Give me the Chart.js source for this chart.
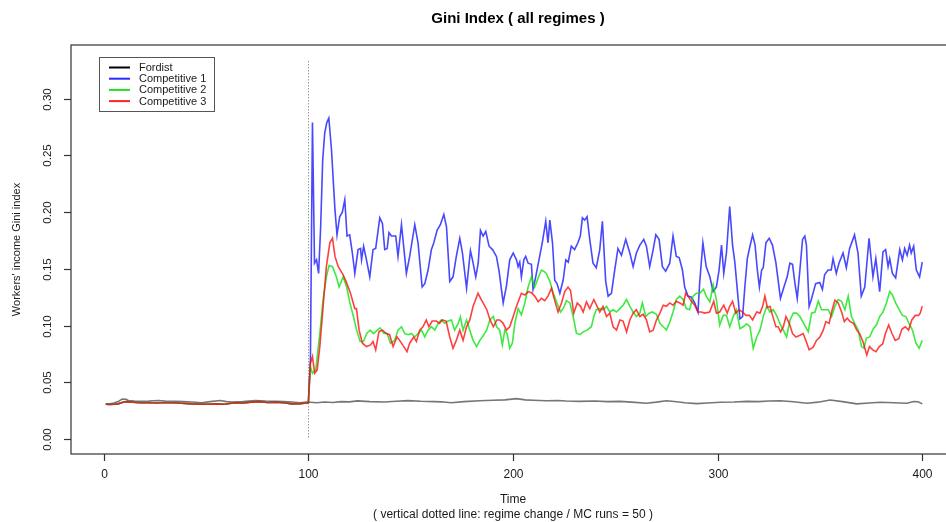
<!DOCTYPE html>
<html>
<head>
<meta charset="utf-8">
<title>Gini Index ( all regimes )</title>
<script src="https://cdn.jsdelivr.net/npm/chart.js@4/dist/chart.umd.min.js"></script>
<style>
  html, body { margin: 0; padding: 0; background: #ffffff; overflow: hidden; }
  canvas { display: block; }
</style>
</head>
<body>
<canvas id="gini" width="960" height="522" style="width:960px;height:522px"></canvas>
<script>
// ---- chart text ----
const chartTitle = 'Gini Index ( all regimes )';
const xTitle = 'Time';
const xSubtitle = '( vertical dotted line: regime change / MC runs = 50 )';
const yTitle = "Workers' income Gini index";
const seriesNames = ['Fordist', 'Competitive 1', 'Competitive 2', 'Competitive 3'];
const seriesColors = ['#767676', 'rgba(20,20,255,0.78)', 'rgba(10,225,10,0.78)', 'rgba(255,10,10,0.78)'];
const legendColors = ['#000000', '#2a2aff', '#22dd22', '#ff2222'];

// ---- axes ----
const xTicks = [0, 100, 200, 300, 400];
const xTickLabels = ['0', '100', '200', '300', '400'];
const yTicks = [0, 0.05, 0.10, 0.15, 0.20, 0.25, 0.30];
const yTickLabels = ['0.00', '0.05', '0.10', '0.15', '0.20', '0.25', '0.30'];
const regimeChangeTime = 100;

// ---- Fordist regime (whole run) ----
const fordistTime = [1, 3, 5, 7, 9, 11, 12, 15, 18.6, 22, 26.7, 30, 35, 39, 43, 47.9, 52, 56.9, 60, 62.6,
  68, 74, 79, 83.8, 88, 91.9, 96, 99.3, 104, 108, 112, 116, 120, 124, 130, 137, 143, 148.6, 155, 161.6,
  165, 169.8, 176, 183.8, 190, 196, 201.7, 206, 210, 216.3, 222, 226, 232.6, 240, 246, 252.2, 258, 265.2,
  270, 275, 280, 284, 289.6, 295, 301.3, 308, 314.3, 320, 325, 330.6, 337, 343.7, 349, 355, 361, 368,
  374, 379.5, 386, 392.5, 395.8, 398, 400];
const fordistGini = [0.031, 0.031, 0.0318, 0.033, 0.0353, 0.035, 0.034, 0.0335, 0.0333, 0.0335, 0.034, 0.0335,
  0.0333, 0.033, 0.0326, 0.032, 0.033, 0.034, 0.033, 0.0326, 0.033, 0.034, 0.0335, 0.0333, 0.033, 0.0326,
  0.032, 0.0326, 0.032, 0.0326, 0.0322, 0.033, 0.0328, 0.0336, 0.033, 0.0326, 0.0333, 0.0339, 0.0333, 0.033,
  0.0328, 0.032, 0.033, 0.0338, 0.0342, 0.0345, 0.0356, 0.0345, 0.0342, 0.0338, 0.034, 0.0335, 0.0332, 0.0335,
  0.033, 0.0332, 0.0325, 0.0315, 0.0325, 0.0338, 0.0328, 0.032, 0.0312, 0.0318, 0.0324, 0.0326, 0.0332, 0.033,
  0.0335, 0.0338, 0.0328, 0.0315, 0.0325, 0.0344, 0.033, 0.031, 0.0318, 0.0324, 0.032, 0.0315, 0.033, 0.0328,
  0.031];

// ---- competitive regimes: common path before the regime change ----
const preChangeTime = [1, 3, 5, 7, 9, 11, 14, 18, 22, 26, 30, 34, 38, 43, 47, 51, 55, 59, 64, 68, 72, 76, 80,
  84, 88, 92, 96, 100];
const preChangeGini = [0.0306, 0.0305, 0.0306, 0.031, 0.0322, 0.033, 0.0325, 0.032, 0.0322, 0.0318, 0.0322,
  0.032, 0.0315, 0.031, 0.0308, 0.0306, 0.031, 0.0306, 0.032, 0.0318, 0.0325, 0.033, 0.0322, 0.0325, 0.032,
  0.031, 0.0312, 0.032];

// ---- Competitive 1 after the regime change ----
const comp1Time = [101, 102, 103, 104, 105, 106, 107, 108, 109, 110, 111.3, 113, 114, 115.3, 116.6, 117.8, 118.9,
  120.2, 121.5, 122.7, 124.3, 125.5, 126, 127, 128.4, 130, 131.6, 132.9, 134.9, 136.2, 137.3, 138.5, 139.4,
  140.6, 142.7, 143.8, 145.5, 147.9, 149.5, 152, 153.6, 155.6, 156.9, 158.5, 160.1, 161.3, 162.9, 164.5,
  166.2, 167.5, 169.1, 170.7, 172.3, 174, 175.3, 177.3, 179.2, 180.2, 181.8, 183, 184.1, 185.4, 186.7, 188.3,
  190, 191.9, 193.2, 195.2, 196.8, 198.4, 200.1, 201.7, 202.5, 203.3, 204.1, 205.3, 206.2, 207.4, 209, 209.8,
  211.1, 212.7, 214.3, 216, 217.1, 218, 219.3, 220.4, 221.5, 222.9, 224.5, 225.8, 227, 228.5, 230.1, 231.7,
  232.9, 233.9, 235, 236.2, 237.5, 239.1, 240.7, 242.4, 243.7, 245.3, 246.5, 248.1, 249.7, 251.3, 253, 255.1,
  257.1, 258.7, 260.3, 262, 263.9, 265.2, 266.8, 268.5, 269.8, 271.4, 273, 274.6, 276.6, 278.2, 279.8, 281.2,
  282.8, 283.9, 285.5, 287.2, 288.8, 290.4, 291.2, 292.8, 294.4, 296.2, 297.8, 299.4, 300.7, 301.9, 303,
  304.3, 305.9, 307.3, 308.4, 309.6, 310.9, 312.2, 313.3, 314.5, 315.8, 317.1, 318.3, 319.4, 320.4, 321.5,
  322.3, 323.6, 325.2, 326.8, 328.5, 330.7, 332.4, 334, 335.3, 336.6, 337.8, 338.9, 340.2, 341.5, 342.6,
  343.4, 344.7, 345.8, 347.9, 349.9, 351.2, 352.3, 354, 355.5, 356.4, 358, 359.3, 361.3, 362.9, 364.5, 366.9,
  368.6, 370.2, 371.9, 374, 375.9, 377.3, 379.2, 380.8, 382.1, 383.3, 384.1, 385.4, 387, 389, 390.3, 391.4,
  392.6, 393.8, 394.6, 395.8, 397.1, 398.7, 400];
const comp1Gini = [0.07, 0.279, 0.155, 0.158, 0.146, 0.187, 0.246, 0.27, 0.279, 0.283, 0.255, 0.202, 0.18, 0.196,
  0.2, 0.211, 0.179, 0.18, 0.164, 0.146, 0.167, 0.168, 0.158, 0.17, 0.158, 0.143, 0.167, 0.168, 0.195, 0.19,
  0.167, 0.168, 0.182, 0.179, 0.179, 0.161, 0.189, 0.146, 0.161, 0.189, 0.173, 0.134, 0.137, 0.149, 0.167,
  0.173, 0.184, 0.189, 0.198, 0.187, 0.139, 0.143, 0.161, 0.177, 0.164, 0.133, 0.166, 0.158, 0.143, 0.155,
  0.184, 0.179, 0.183, 0.17, 0.167, 0.161, 0.148, 0.12, 0.135, 0.158, 0.164, 0.158, 0.152, 0.156, 0.143,
  0.158, 0.161, 0.155, 0.154, 0.132, 0.143, 0.158, 0.173, 0.192, 0.173, 0.193, 0.173, 0.14, 0.137, 0.1285,
  0.14, 0.158, 0.156, 0.17, 0.167, 0.173, 0.179, 0.195, 0.193, 0.196, 0.176, 0.155, 0.151, 0.167, 0.192,
  0.139, 0.126, 0.1285, 0.149, 0.168, 0.162, 0.176, 0.164, 0.152, 0.164, 0.171, 0.176, 0.17, 0.152, 0.167,
  0.18, 0.176, 0.152, 0.148, 0.155, 0.179, 0.161, 0.16, 0.149, 0.134, 0.126, 0.125, 0.12, 0.112, 0.137,
  0.173, 0.152, 0.143, 0.13, 0.134, 0.149, 0.171, 0.146, 0.164, 0.205, 0.171, 0.156, 0.132, 0.106, 0.108,
  0.134, 0.159, 0.17, 0.18, 0.171, 0.149, 0.134, 0.149, 0.151, 0.173, 0.177, 0.171, 0.155, 0.124, 0.134,
  0.143, 0.155, 0.154, 0.137, 0.124, 0.149, 0.176, 0.179, 0.171, 0.117, 0.123, 0.137, 0.138, 0.132, 0.145,
  0.149, 0.149, 0.159, 0.146, 0.155, 0.164, 0.151, 0.168, 0.18, 0.164, 0.126, 0.134, 0.177, 0.143, 0.159,
  0.13, 0.165, 0.167, 0.152, 0.159, 0.146, 0.142, 0.167, 0.158, 0.168, 0.162, 0.171, 0.164, 0.17, 0.149,
  0.143, 0.156];

// ---- Competitive 2 after the regime change ----
const comp2Time = [101, 102, 103.6, 105.6, 107.2, 108.8, 110.1, 111.8, 113.7, 115, 117, 118.7, 120.3, 122, 123.6,
  125.3, 126.9, 128.5, 130.2, 131.8, 133.7, 135, 137, 138.5, 140.1, 142.2, 143.8, 145.5, 147.1, 148.8, 150.4,
  152, 153.6, 155.3, 156.9, 158.5, 160.1, 161.8, 163.4, 165, 166.6, 168.3, 169.9, 171.5, 173.2, 174.3, 175.6,
  177.3, 178.9, 180.5, 182.2, 183.8, 185.4, 187.1, 188.7, 190.4, 192, 193.5, 194.8, 196, 197.1, 198.4, 199.7,
  200.9, 202.5, 204.1, 205.8, 207.4, 209, 210.6, 212.3, 213.9, 215, 216.3, 218, 219.6, 221.5, 223.2, 224.8,
  226.1, 227.8, 229.4, 231, 232.7, 234.3, 236.2, 238.3, 239.5, 240.7, 242.4, 244, 245.7, 247.3, 248.9, 250.6,
  252.2, 253.8, 255.5, 257.1, 258.7, 260.3, 262, 263.2, 264.9, 266.5, 268.1, 270.1, 271.8, 273.4, 275, 276.6,
  278.2, 279.8, 281.5, 283.1, 284.7, 286.3, 288, 289.6, 291.3, 293.1, 294.4, 296.2, 297.8, 299.4, 301, 302.7,
  304.3, 305.9, 307.6, 309.2, 310.9, 312.5, 314.1, 315.8, 317.4, 319.1, 320.7, 322.3, 324, 325.6, 327.2,
  328.8, 330.5, 332.1, 333.7, 335.3, 337, 338.6, 340.2, 342.2, 344.3, 345.9, 347.6, 349.2, 350.8, 352.4,
  354.1, 355.7, 357.3, 358.9, 360.5, 362.2, 363.8, 365.4, 367.1, 368.7, 370.3, 371.5, 372.7, 374.3, 376,
  377.6, 379.2, 380.8, 382.5, 384.1, 385.4, 387, 388.7, 390.3, 392, 393.6, 395.2, 396.9, 398.5, 400];
const comp2Gini = [0.0638, 0.058, 0.061, 0.093, 0.123, 0.143, 0.153, 0.152, 0.143, 0.134, 0.143, 0.134, 0.12,
  0.108, 0.096, 0.086, 0.086, 0.093, 0.096, 0.093, 0.096, 0.098, 0.093, 0.093, 0.0845, 0.087, 0.096, 0.099,
  0.093, 0.092, 0.093, 0.09, 0.093, 0.096, 0.09, 0.096, 0.099, 0.096, 0.102, 0.105, 0.102, 0.104, 0.105, 0.096,
  0.102, 0.1076, 0.096, 0.105, 0.096, 0.087, 0.0815, 0.087, 0.091, 0.096, 0.105, 0.108, 0.099, 0.096, 0.083,
  0.096, 0.093, 0.08, 0.0845, 0.102, 0.115, 0.1095, 0.12, 0.134, 0.143, 0.134, 0.142, 0.149, 0.148, 0.146,
  0.139, 0.129, 0.12, 0.112, 0.116, 0.122, 0.12, 0.108, 0.0933, 0.092, 0.0945, 0.096, 0.099, 0.108, 0.114,
  0.115, 0.114, 0.117, 0.112, 0.114, 0.112, 0.115, 0.118, 0.123, 0.117, 0.112, 0.108, 0.111, 0.12, 0.108,
  0.111, 0.112, 0.11, 0.102, 0.099, 0.096, 0.103, 0.112, 0.123, 0.126, 0.123, 0.115, 0.114, 0.126, 0.1285,
  0.1285, 0.132, 0.126, 0.121, 0.136, 0.123, 0.1005, 0.109, 0.109, 0.099, 0.108, 0.114, 0.0973, 0.099, 0.1015,
  0.099, 0.08, 0.09, 0.096, 0.108, 0.117, 0.112, 0.114, 0.109, 0.1015, 0.096, 0.09, 0.1045, 0.111, 0.111,
  0.108, 0.1015, 0.0945, 0.111, 0.112, 0.1215, 0.114, 0.114, 0.114, 0.108, 0.117, 0.123, 0.1215, 0.114, 0.126,
  0.108, 0.1015, 0.096, 0.0815, 0.08, 0.089, 0.09, 0.097, 0.1005, 0.108, 0.112, 0.12, 0.13, 0.127, 0.12, 0.114,
  0.109, 0.108, 0.1015, 0.096, 0.0845, 0.08, 0.087];

// ---- Competitive 3 after the regime change ----
const comp3Time = [101, 102, 103.1, 104.3, 105.6, 107.2, 108.8, 110.5, 111.8, 113, 114.6, 117, 118.4, 120.5, 122.7,
  123.5, 124.8, 126.4, 128.4, 130.4, 131.6, 132.9, 134.5, 136.2, 138.1, 139.7, 141.4, 143.3, 144.6, 146.6,
  148.2, 149.5, 151.5, 152.8, 154.4, 156, 157.6, 158.9, 160.5, 162.5, 164.1, 165.4, 167.3, 169.1, 170.7,
  172.3, 174, 175.6, 177.3, 178.9, 180.5, 182.9, 184.5, 187.2, 188.8, 190.4, 192.1, 193.5, 195.2, 196.8,
  198.4, 200.1, 201.7, 204.1, 205.8, 207.4, 209, 210.6, 212.3, 213.9, 215.5, 217.1, 218.8, 220.4, 222, 223.7,
  225.3, 226.9, 228.1, 229.7, 231.4, 233, 234.3, 235.9, 237.5, 239.5, 241.1, 242.4, 244, 245.7, 247.3, 248.9,
  250.6, 252.2, 253.8, 255.5, 257.1, 258.7, 260.3, 262, 263.6, 265.2, 266.8, 268.5, 270.1, 271.8, 273.4, 275,
  276.6, 278.2, 279.8, 281.5, 283.1, 284.4, 285.5, 287.2, 288.8, 290.4, 292, 293.6, 296.1, 298.1, 299.4, 301,
  303, 304.7, 305.9, 307.3, 308.9, 310.5, 312.2, 313.8, 315.5, 317.1, 319.1, 320.7, 322, 323.1, 324.3, 325.6,
  326.8, 328.5, 329.6, 330.8, 332.1, 333.4, 335, 336.6, 338.3, 340.2, 341.8, 343.1, 344.7, 346.7, 348.3, 350,
  351.6, 352.9, 354.5, 355.7, 357.3, 358.9, 360.6, 361.9, 363.3, 364.8, 366.4, 368, 369.4, 371, 372.9, 374.2,
  375.8, 377.4, 379, 380.7, 382, 383.6, 385.2, 386.8, 388.5, 390.1, 391.7, 393.3, 394.9, 396.6, 398.2, 399,
  400];
const comp3Gini = [0.0668, 0.0727, 0.058, 0.061, 0.0815, 0.117, 0.152, 0.173, 0.177, 0.161, 0.152, 0.1447, 0.139,
  0.129, 0.115, 0.115, 0.096, 0.0845, 0.0815, 0.083, 0.086, 0.0786, 0.0947, 0.096, 0.093, 0.092, 0.0815, 0.09,
  0.087, 0.0815, 0.077, 0.0845, 0.09, 0.086, 0.096, 0.099, 0.105, 0.099, 0.104, 0.104, 0.102, 0.105, 0.104,
  0.09, 0.08, 0.087, 0.096, 0.087, 0.099, 0.105, 0.117, 0.1285, 0.123, 0.114, 0.105, 0.099, 0.105, 0.105,
  0.102, 0.096, 0.099, 0.108, 0.117, 0.1285, 0.127, 0.13, 0.129, 0.126, 0.121, 0.124, 0.122, 0.126, 0.133,
  0.122, 0.112, 0.12, 0.13, 0.134, 0.131, 0.111, 0.12, 0.117, 0.112, 0.121, 0.115, 0.123, 0.117, 0.112, 0.117,
  0.108, 0.111, 0.099, 0.096, 0.105, 0.104, 0.0945, 0.105, 0.111, 0.114, 0.108, 0.11, 0.105, 0.0945, 0.096,
  0.105, 0.111, 0.118, 0.117, 0.12, 0.118, 0.1215, 0.12, 0.118, 0.1285, 0.126, 0.1215, 0.118, 0.112, 0.112,
  0.111, 0.112, 0.1215, 0.111, 0.112, 0.118, 0.111, 0.117, 0.1215, 0.111, 0.114, 0.112, 0.109, 0.109, 0.105,
  0.112, 0.111, 0.117, 0.126, 0.116, 0.117, 0.109, 0.099, 0.099, 0.0945, 0.099, 0.108, 0.102, 0.093, 0.09,
  0.0915, 0.093, 0.087, 0.0786, 0.081, 0.087, 0.09, 0.096, 0.1035, 0.102, 0.112, 0.1225, 0.12, 0.112, 0.1035,
  0.1065, 0.1035, 0.102, 0.096, 0.093, 0.086, 0.0741, 0.0815, 0.0786, 0.077, 0.0815, 0.084, 0.093, 0.1005,
  0.093, 0.087, 0.0885, 0.097, 0.099, 0.096, 0.105, 0.109, 0.109, 0.111, 0.117];

// pair a time vector with its values for a linear x scale
function toPoints(times, values) {
  return times.map((t, i) => ({ x: t, y: values[i] }));
}

const fordistPts = toPoints(fordistTime, fordistGini);
const prePts = toPoints(preChangeTime, preChangeGini);
const comp1Pts = prePts.concat(toPoints(comp1Time, comp1Gini));
const comp2Pts = prePts.concat(toPoints(comp2Time, comp2Gini));
const comp3Pts = prePts.concat(toPoints(comp3Time, comp3Gini));

const FONT = '"Liberation Sans", Arial, Helvetica, sans-serif';

// frame, axes, titles, regime marker and legend, drawn in base-graphics style
const decorations = {
  id: 'decorations',
  beforeDatasetsDraw(chart) {
    const { ctx, scales: { x, y } } = chart;
    const px = Math.round(x.getPixelForValue(regimeChangeTime)) + 0.5;
    ctx.save();
    ctx.strokeStyle = '#666666';
    ctx.lineWidth = 1;
    ctx.setLineDash([1, 2]);
    ctx.beginPath();
    ctx.moveTo(px, y.getPixelForValue(0.333));
    ctx.lineTo(px, y.getPixelForValue(0));
    ctx.stroke();
    ctx.restore();
  },
  afterDraw(chart) {
    const { ctx, chartArea: a, scales: { x, y } } = chart;
    ctx.save();
    // plot frame
    ctx.strokeStyle = '#333333';
    ctx.lineWidth = 1.2;
    ctx.strokeRect(a.left, a.top, a.right - a.left, a.bottom - a.top);

    // x axis ticks and labels
    ctx.fillStyle = '#1a1a1a';
    ctx.font = '12px ' + FONT;
    ctx.textAlign = 'center';
    ctx.textBaseline = 'middle';
    xTicks.forEach((v, i) => {
      const p = Math.round(x.getPixelForValue(v)) + 0.5;
      ctx.beginPath();
      ctx.moveTo(p, a.bottom);
      ctx.lineTo(p, a.bottom + 7);
      ctx.stroke();
      ctx.fillText(xTickLabels[i], p, a.bottom + 21);
    });

    // y axis ticks and rotated labels
    ctx.font = '11.5px ' + FONT;
    yTicks.forEach((v, i) => {
      const p = Math.round(y.getPixelForValue(v)) + 0.5;
      ctx.beginPath();
      ctx.moveTo(a.left, p);
      ctx.lineTo(a.left - 7, p);
      ctx.stroke();
      ctx.save();
      ctx.translate(a.left - 23, p);
      ctx.rotate(-Math.PI / 2);
      ctx.fillText(yTickLabels[i], 0, 0);
      ctx.restore();
    });

    // titles
    const cx = (a.left + a.right) / 2;
    ctx.font = 'bold 15px ' + FONT;
    ctx.textBaseline = 'alphabetic';
    ctx.fillStyle = '#000000';
    ctx.fillText(chartTitle, cx + 5, 23);
    ctx.font = '12px ' + FONT;
    ctx.fillStyle = '#1a1a1a';
    ctx.textBaseline = 'middle';
    ctx.fillText(xTitle, cx, 500);
    ctx.fillText(xSubtitle, cx, 514.5);
    ctx.save();
    ctx.translate(17, (a.top + a.bottom) / 2);
    ctx.rotate(-Math.PI / 2);
    ctx.font = '11px ' + FONT;
    ctx.fillText(yTitle, 0, 0);
    ctx.restore();

    // legend
    const lx = a.left + 28, ly = a.top + 12;
    const lw = 115, lh = 54, row = 11.2;
    ctx.strokeStyle = '#555555';
    ctx.lineWidth = 1;
    ctx.strokeRect(lx + 0.5, ly + 0.5, lw, lh);
    ctx.font = '11px ' + FONT;
    ctx.textAlign = 'left';
    ctx.textBaseline = 'middle';
    seriesNames.forEach((name, i) => {
      const ry = ly + 10.5 + i * row;
      ctx.strokeStyle = legendColors[i];
      ctx.lineWidth = 2;
      ctx.beginPath();
      ctx.moveTo(lx + 10, ry);
      ctx.lineTo(lx + 31, ry);
      ctx.stroke();
      ctx.fillStyle = '#1a1a1a';
      ctx.fillText(name, lx + 40, ry + 0.5);
    });
    ctx.restore();
  }
};

function lineSet(label, data, color, width, order) {
  return {
    label, data, borderColor: color, backgroundColor: color,
    borderWidth: width, pointRadius: 0, pointHoverRadius: 0,
    tension: 0, fill: false, order
  };
}

new Chart(document.getElementById('gini'), {
  type: 'line',
  data: {
    datasets: [
      lineSet(seriesNames[3], comp3Pts, seriesColors[3], 1.6, 1),
      lineSet(seriesNames[2], comp2Pts, seriesColors[2], 1.6, 2),
      lineSet(seriesNames[1], comp1Pts, seriesColors[1], 1.6, 3),
      lineSet(seriesNames[0], fordistPts, seriesColors[0], 1.6, 4)
    ]
  },
  options: {
    responsive: false,
    animation: false,
    events: [],
    layout: { padding: { left: 71, top: 45, right: 5, bottom: 68 } },
    scales: {
      x: { type: 'linear', min: -16, max: 416, display: false },
      y: { type: 'linear', min: -0.0132, max: 0.3474, display: false }
    },
    plugins: {
      legend: { display: false },
      title: { display: false },
      tooltip: { enabled: false }
    }
  },
  plugins: [decorations]
});
</script>
</body>
</html>
